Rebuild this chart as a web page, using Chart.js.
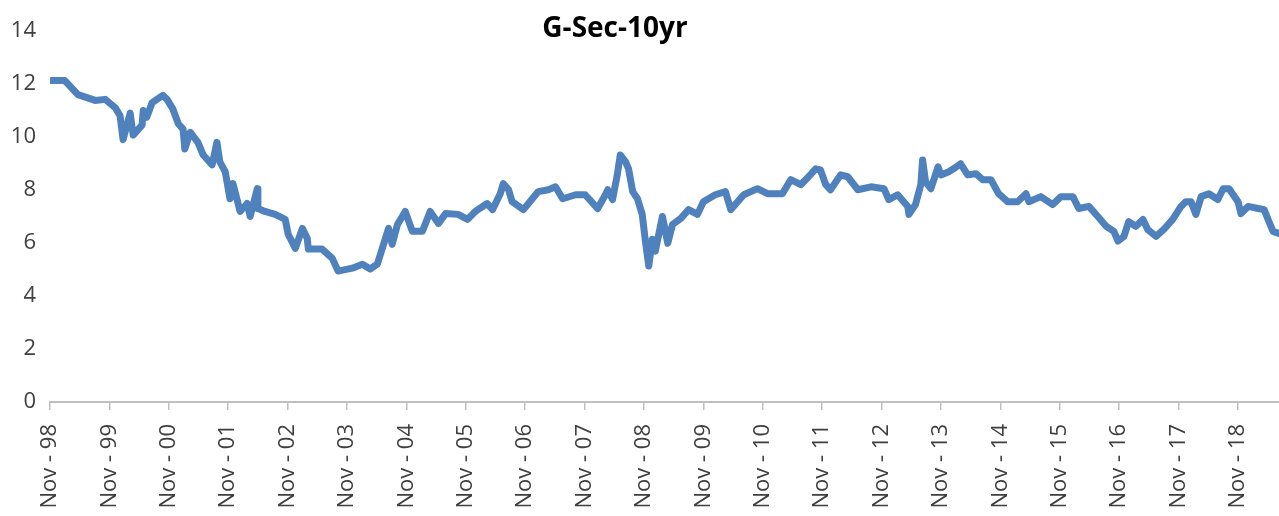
<!DOCTYPE html>
<html>
<head>
<meta charset="utf-8">
<script src="https://cdn.jsdelivr.net/npm/chart.js@4"></script>
<style>
  html, body { margin: 0; padding: 0; background: #fff; }
  #wrap { width: 1279px; height: 516px; position: relative; }
</style>
</head>
<body>
<div id="wrap"><canvas id="gsecChart"></canvas></div>
<script>
// years since Nov 1998
const years = [
  0.03, 0.25, 0.47, 0.76, 0.93, 1.10, 1.18, 1.23, 1.35, 1.40, 1.55, 1.57, 1.63, 1.72, 1.90, 1.97,
  2.07, 2.16, 2.24, 2.27, 2.36, 2.49, 2.58, 2.73, 2.81, 2.86, 2.95, 3.00, 3.03, 3.08, 3.20, 3.32,
  3.37, 3.49, 3.50, 3.62, 3.79, 3.96, 4.01, 4.13, 4.25, 4.33, 4.35, 4.58, 4.75, 4.85, 5.09, 5.26,
  5.39, 5.51, 5.59, 5.70, 5.76, 5.85, 5.98, 6.10, 6.27, 6.40, 6.54, 6.66, 6.87, 7.03, 7.16, 7.36,
  7.45, 7.58, 7.63, 7.72, 7.78, 7.97, 8.12, 8.22, 8.39, 8.51, 8.63, 8.85, 9.01, 9.22, 9.35, 9.39,
  9.47, 9.55, 9.60, 9.69, 9.74, 9.81, 9.89, 9.97, 10.03, 10.08, 10.14, 10.19, 10.31, 10.40, 10.48, 10.62,
  10.75, 10.90, 11.00, 11.20, 11.37, 11.46, 11.68, 11.91, 12.08, 12.33, 12.47, 12.64, 12.77, 12.89, 12.97, 13.06,
  13.14, 13.31, 13.43, 13.60, 13.82, 14.04, 14.12, 14.27, 14.44, 14.46, 14.57, 14.66, 14.69, 14.74, 14.83, 14.95,
  15.00, 15.13, 15.21, 15.33, 15.45, 15.59, 15.70, 15.84, 15.97, 16.12, 16.29, 16.43, 16.48, 16.68, 16.88, 17.02,
  17.22, 17.32, 17.49, 17.64, 17.78, 17.91, 17.98, 18.08, 18.16, 18.28, 18.40, 18.48, 18.62, 18.75, 18.90, 19.04,
  19.12, 19.21, 19.29, 19.38, 19.51, 19.66, 19.75, 19.85, 20.00, 20.05, 20.17, 20.34, 20.44, 20.52, 20.59, 20.69
];
const yields = [
  12.13, 12.13, 11.60, 11.38, 11.42, 11.10, 10.80, 9.90, 10.90, 10.07, 10.45, 11.00, 10.75, 11.30, 11.57, 11.42,
  11.05, 10.50, 10.30, 9.55, 10.18, 9.80, 9.32, 8.95, 9.80, 9.06, 8.69, 8.05, 7.67, 8.24, 7.19, 7.49,
  7.00, 8.05, 7.30, 7.19, 7.08, 6.89, 6.33, 5.80, 6.55, 6.18, 5.77, 5.77, 5.43, 4.94, 5.05, 5.20,
  5.02, 5.20, 5.77, 6.55, 5.95, 6.70, 7.19, 6.44, 6.44, 7.19, 6.74, 7.11, 7.08, 6.89, 7.19, 7.49,
  7.26, 7.86, 8.24, 8.01, 7.56, 7.26, 7.67, 7.94, 8.01, 8.12, 7.67, 7.82, 7.82, 7.30, 7.82, 8.01,
  7.64, 8.57, 9.32, 9.06, 8.80, 7.94, 7.67, 7.08, 5.95, 5.13, 6.14, 5.69, 7.00, 5.99, 6.70, 6.93,
  7.26, 7.08, 7.56, 7.82, 7.94, 7.26, 7.82, 8.05, 7.86, 7.86, 8.39, 8.20, 8.50, 8.80, 8.76, 8.20,
  8.01, 8.57, 8.50, 8.01, 8.12, 8.05, 7.64, 7.82, 7.38, 7.08, 7.45, 8.20, 9.13, 8.31, 8.05, 8.87,
  8.57, 8.69, 8.80, 8.99, 8.57, 8.61, 8.39, 8.39, 7.86, 7.56, 7.56, 7.86, 7.56, 7.75, 7.45, 7.75,
  7.75, 7.30, 7.38, 7.00, 6.63, 6.44, 6.07, 6.25, 6.81, 6.63, 6.89, 6.51, 6.25, 6.51, 6.89, 7.38,
  7.56, 7.56, 7.08, 7.75, 7.86, 7.64, 8.05, 8.05, 7.56, 7.11, 7.38, 7.30, 7.26, 6.81, 6.44, 6.36
];
const startYear = 98;
const yTicks = [0, 2, 4, 6, 8, 10, 12, 14];

const titlePlugin = {
  id: 'leftTitle',
  afterDraw(chart) {
    const ctx = chart.ctx;
    ctx.save();
    ctx.font = 'bold 28px "Open Sans"';
    ctx.fillStyle = '#000';
    ctx.textAlign = 'center';
    ctx.textBaseline = 'middle';
    ctx.fillText('G-Sec-10yr', 615, 29);
    ctx.restore();
  }
};

new Chart(document.getElementById('gsecChart'), {
  type: 'line',
  data: {
    datasets: [{
      label: 'G-Sec-10yr',
      data: years.map((t, i) => ({ x: t, y: yields[i] })),
      borderColor: '#4F81BD',
      borderWidth: 7,
      borderJoinStyle: 'round',
      borderCapStyle: 'round',
      pointRadius: 0,
      tension: 0
    }]
  },
  options: {
    responsive: true,
    maintainAspectRatio: false,
    animation: false,
    layout: { padding: { top: 31, right: 0, left: 0, bottom: 0 } },
    plugins: {
      legend: { display: false },
      title: { display: false },
      tooltip: { enabled: false }
    },
    scales: {
      x: {
        type: 'linear',
        min: 0,
        max: 20.69,
        afterFit: s => { s.height = 114; },
        grid: { display: true, drawOnChartArea: false, color: '#bfbfbf', tickLength: 8, lineWidth: 1.5 },
        border: { display: true, color: '#bfbfbf', width: 2 },
        ticks: {
          stepSize: 1,
          includeBounds: false,
          autoSkip: false,
          maxRotation: 90,
          minRotation: 90,
          padding: 14,
          color: '#404040',
          font: { family: '"Open Sans"', size: 22 },
          callback: v => 'Nov - ' + String((startYear + v) % 100).padStart(2, '0')
        }
      },
      y: {
        min: 0,
        max: 14,
        afterFit: s => { s.width = 50; },
        afterBuildTicks: s => { s.ticks = yTicks.map(v => ({ value: v })); },
        grid: { display: false },
        border: { display: false },
        ticks: {
          padding: 6,
          color: '#404040',
          font: { family: '"Open Sans"', size: 22 }
        }
      }
    }
  },
  plugins: [titlePlugin]
});
</script>
</body>
</html>
